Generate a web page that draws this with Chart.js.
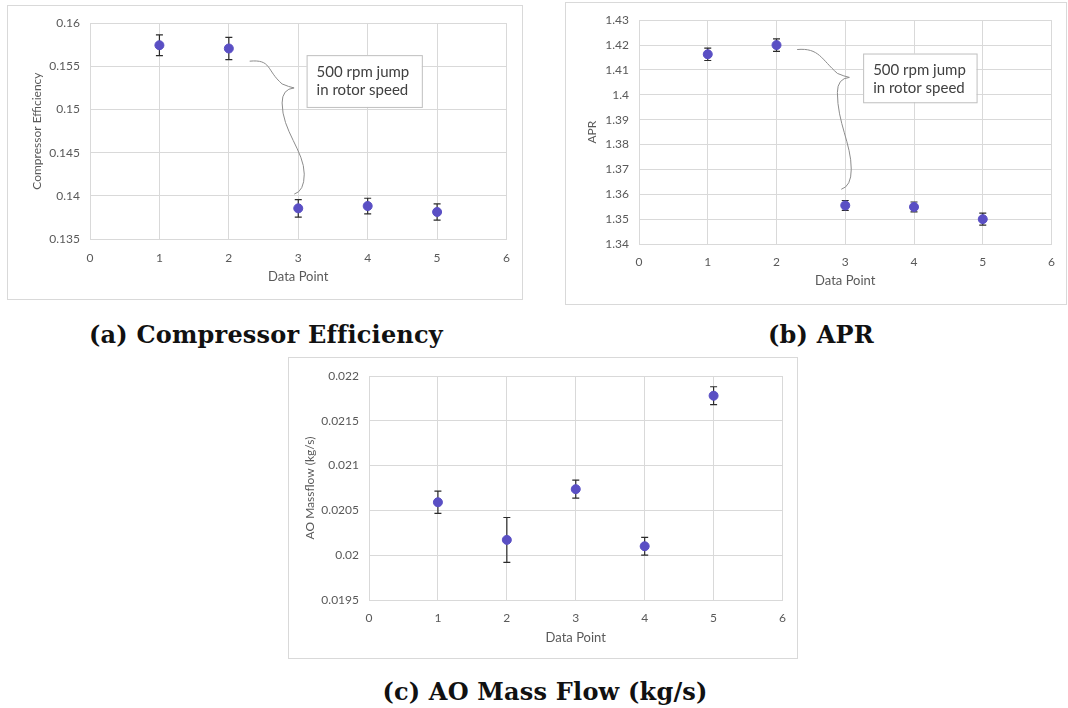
<!DOCTYPE html>
<html>
<head>
<meta charset="utf-8">
<script src="https://cdn.jsdelivr.net/npm/chart.js@4.4.1/dist/chart.umd.min.js"></script>
<style>
  html, body { margin: 0; padding: 0; background: #fff; }
  body { width: 1068px; height: 708px; position: relative; overflow: hidden; }
  .frame { position: absolute; border: 1px solid #d9d9d9; background: #fff; box-sizing: border-box; }
  .frame canvas { display: block; }
  .cap { position: absolute; font-family: "DejaVu Serif", serif; font-weight: bold; font-size: 24px;
         letter-spacing: 0.2px; color: #111; white-space: nowrap; transform: translateX(-50%); line-height: 28px; }
</style>
</head>
<body>
<div class="frame" id="fa" style="left:7px;top:5px;width:516px;height:295px"><canvas id="ca"></canvas></div>
<div class="frame" id="fb" style="left:565px;top:2px;width:502px;height:303px"><canvas id="cb"></canvas></div>
<div class="frame" id="fc" style="left:288px;top:357px;width:510px;height:302px"><canvas id="cc"></canvas></div>
<div class="cap" style="left:266px;top:321px">(a) Compressor Efficiency</div>
<div class="cap" style="left:821px;top:321px">(b) APR</div>
<div class="cap" style="left:545px;top:678px">(c) AO Mass Flow (kg/s)</div>
<script>
// data
const dataPoints = [1, 2, 3, 4, 5];
const xTicks = [0, 1, 2, 3, 4, 5, 6];

const effValues = [0.15745, 0.15707, 0.13855, 0.13882, 0.13813];
const effErrors = [0.0012, 0.00128, 0.00102, 0.0009, 0.00095];
const effTicks  = [0.135, 0.14, 0.145, 0.15, 0.155, 0.16];

const aprValues = [1.4163, 1.4200, 1.3555, 1.3549, 1.3500];
const aprErrors = [0.0025, 0.0025, 0.002, 0.002, 0.0024];
const aprTicks  = [1.34, 1.35, 1.36, 1.37, 1.38, 1.39, 1.4, 1.41, 1.42, 1.43];

const flowValues = [0.020591, 0.020171, 0.020737, 0.0201, 0.02178];
const flowErrors = [0.000125, 0.00025, 0.0001, 0.0001, 0.0001];
const flowTicks  = [0.0195, 0.02, 0.0205, 0.021, 0.0215, 0.022];

const noteLines = ['500 rpm jump', 'in rotor speed'];

const FONT = 'Lato, "Open Sans", sans-serif';
const TXT  = '#595959';
const GRID = '#d9d9d9';
const MARK = '#5a4fc4';

// error bars + optional note box with a curly brace
const extras = {
  id: 'extras',
  beforeDatasetsDraw(chart) {
    const ctx = chart.ctx, xs = chart.scales.x, ys = chart.scales.y;
    const ds = chart.data.datasets[0];
    const errs = chart.options.plugins.extras.errors;
    ctx.save();
    ctx.strokeStyle = '#2b2b2b';
    ctx.lineWidth = 1.2;
    ds.data.forEach((p, i) => {
      const x = xs.getPixelForValue(p.x);
      const y1 = ys.getPixelForValue(p.y + errs[i]);
      const y2 = ys.getPixelForValue(p.y - errs[i]);
      ctx.beginPath();
      ctx.moveTo(x, y1); ctx.lineTo(x, y2);
      ctx.moveTo(x - 3.5, y1); ctx.lineTo(x + 3.5, y1);
      ctx.moveTo(x - 3.5, y2); ctx.lineTo(x + 3.5, y2);
      ctx.stroke();
    });
    ctx.restore();
  },
  afterDatasetsDraw(chart) {
    const note = chart.options.plugins.extras.note;
    if (!note) return;
    const ctx = chart.ctx, xs = chart.scales.x, ys = chart.scales.y;
    const bx1 = xs.getPixelForValue(note.box[0]), by1 = ys.getPixelForValue(note.box[1]);
    const bx2 = xs.getPixelForValue(note.box[2]), by2 = ys.getPixelForValue(note.box[3]);
    ctx.save();
    ctx.fillStyle = '#fff';
    ctx.fillRect(bx1, by1, bx2 - bx1, by2 - by1);
    ctx.strokeStyle = '#bfbfbf';
    ctx.lineWidth = 1;
    ctx.strokeRect(bx1 + 0.5, by1 + 0.5, bx2 - bx1, by2 - by1);
    ctx.fillStyle = '#404040';
    ctx.font = '15px ' + FONT;
    ctx.textBaseline = 'middle';
    noteLines.forEach((t, i) => ctx.fillText(t, bx1 + 10, by1 + 17 + i * 18));

    // brace: start near point 2, tip toward the box, end above point 3
    const S = { x: xs.getPixelForValue(note.brace[0]), y: ys.getPixelForValue(note.brace[1]) };
    const T = { x: xs.getPixelForValue(note.brace[2]), y: ys.getPixelForValue(note.brace[3]) };
    const E = { x: xs.getPixelForValue(note.brace[4]), y: ys.getPixelForValue(note.brace[5]) };
    ctx.strokeStyle = '#8c8c8c';
    ctx.lineWidth = 1;
    ctx.beginPath();
    ctx.moveTo(S.x, S.y);
    ctx.bezierCurveTo(S.x + 22, S.y - 2, T.x - 28, T.y - 18, T.x - 12, T.y - 4);
    ctx.quadraticCurveTo(T.x - 5, T.y - 1, T.x, T.y);
    ctx.moveTo(T.x, T.y);
    ctx.quadraticCurveTo(T.x - 12, T.y + 1, T.x - 12, T.y + 15);
    const my = (T.y + E.y) / 2;
    ctx.bezierCurveTo(T.x - 12, my - 10, E.x + 6, my + 10, E.x + 6, E.y - 20);
    ctx.quadraticCurveTo(E.x + 6, E.y - 3, E.x - 4, E.y);
    ctx.stroke();
    ctx.restore();
  }
};

function makeChart(id, frame, cfg) {
  const fr = document.getElementById(frame);
  const w = fr.clientWidth, h = fr.clientHeight;
  const canvas = document.getElementById(id);
  canvas.width = w; canvas.height = h;
  canvas.style.width = w + 'px'; canvas.style.height = h + 'px';

  return new Chart(canvas.getContext('2d'), {
    type: 'scatter',
    data: {
      datasets: [{
        data: dataPoints.map((x, i) => ({ x, y: cfg.values[i] })),
        backgroundColor: MARK,
        borderColor: MARK,
        pointRadius: 4.5,
        pointHoverRadius: 4.5,
      }]
    },
    plugins: [extras],
    options: {
      responsive: false,
      animation: false,
      layout: { padding: cfg.pad },
      plugins: {
        legend: { display: false },
        tooltip: { enabled: false },
        extras: { errors: cfg.errors, note: cfg.note },
      },
      scales: {
        x: {
          type: 'linear', min: 0, max: 6,
          afterBuildTicks: s => { s.ticks = xTicks.map(v => ({ value: v })); },
          afterFit: s => { s.height = cfg.xH; },
          grid: { color: GRID, drawTicks: false },
          border: { color: GRID },
          ticks: { color: TXT, font: { family: FONT, size: 12 }, padding: cfg.xPad, maxRotation: 0 },
          title: { display: true, text: 'Data Point', color: TXT, font: { family: FONT, size: 13 }, padding: { top: 0, bottom: cfg.xTitle } },
        },
        y: {
          type: 'linear', min: cfg.ticks[0], max: cfg.ticks[cfg.ticks.length - 1],
          afterBuildTicks: s => { s.ticks = cfg.ticks.map(v => ({ value: v })); },
          afterFit: s => { s.width = cfg.yW; },
          grid: { color: GRID, drawTicks: false },
          border: { color: GRID },
          ticks: { color: TXT, font: { family: FONT, size: 12 }, padding: 10, callback: v => String(v) },
          title: { display: true, text: cfg.yTitle, color: TXT, font: { family: FONT, size: 12 }, padding: { top: cfg.yTitlePad, bottom: 0 } },
        }
      }
    }
  });
}

makeChart('ca', 'fa', {
  values: effValues, errors: effErrors, ticks: effTicks, yTitle: 'Compressor Efficiency',
  pad: { top: 16, right: 9, left: 0, bottom: 0 }, xH: 60, yW: 82, xPad: 12, xTitle: 14, yTitlePad: 22,
  note: { box: [3.12, 0.1563, 4.78, 0.1503], brace: [2.30, 0.1556, 2.94, 0.1525, 3.0, 0.1402] },
});
makeChart('cb', 'fb', {
  values: aprValues, errors: aprErrors, ticks: aprTicks, yTitle: 'APR',
  pad: { top: 14, right: 7, left: 0, bottom: 0 }, xH: 60, yW: 73, xPad: 11, xTitle: 15, yTitlePad: 19,
  note: { box: [3.26, 1.4166, 4.91, 1.397], brace: [2.30, 1.4182, 3.06, 1.407, 3.0, 1.362] },
});
makeChart('cc', 'fc', {
  values: flowValues, errors: flowErrors, ticks: flowTicks, yTitle: 'AO Massflow (kg/s)',
  pad: { top: 18, right: 14, left: 0, bottom: 0 }, xH: 58, yW: 80, xPad: 11, xTitle: 12, yTitlePad: 14,
  note: null,
});
</script>
</body>
</html>
